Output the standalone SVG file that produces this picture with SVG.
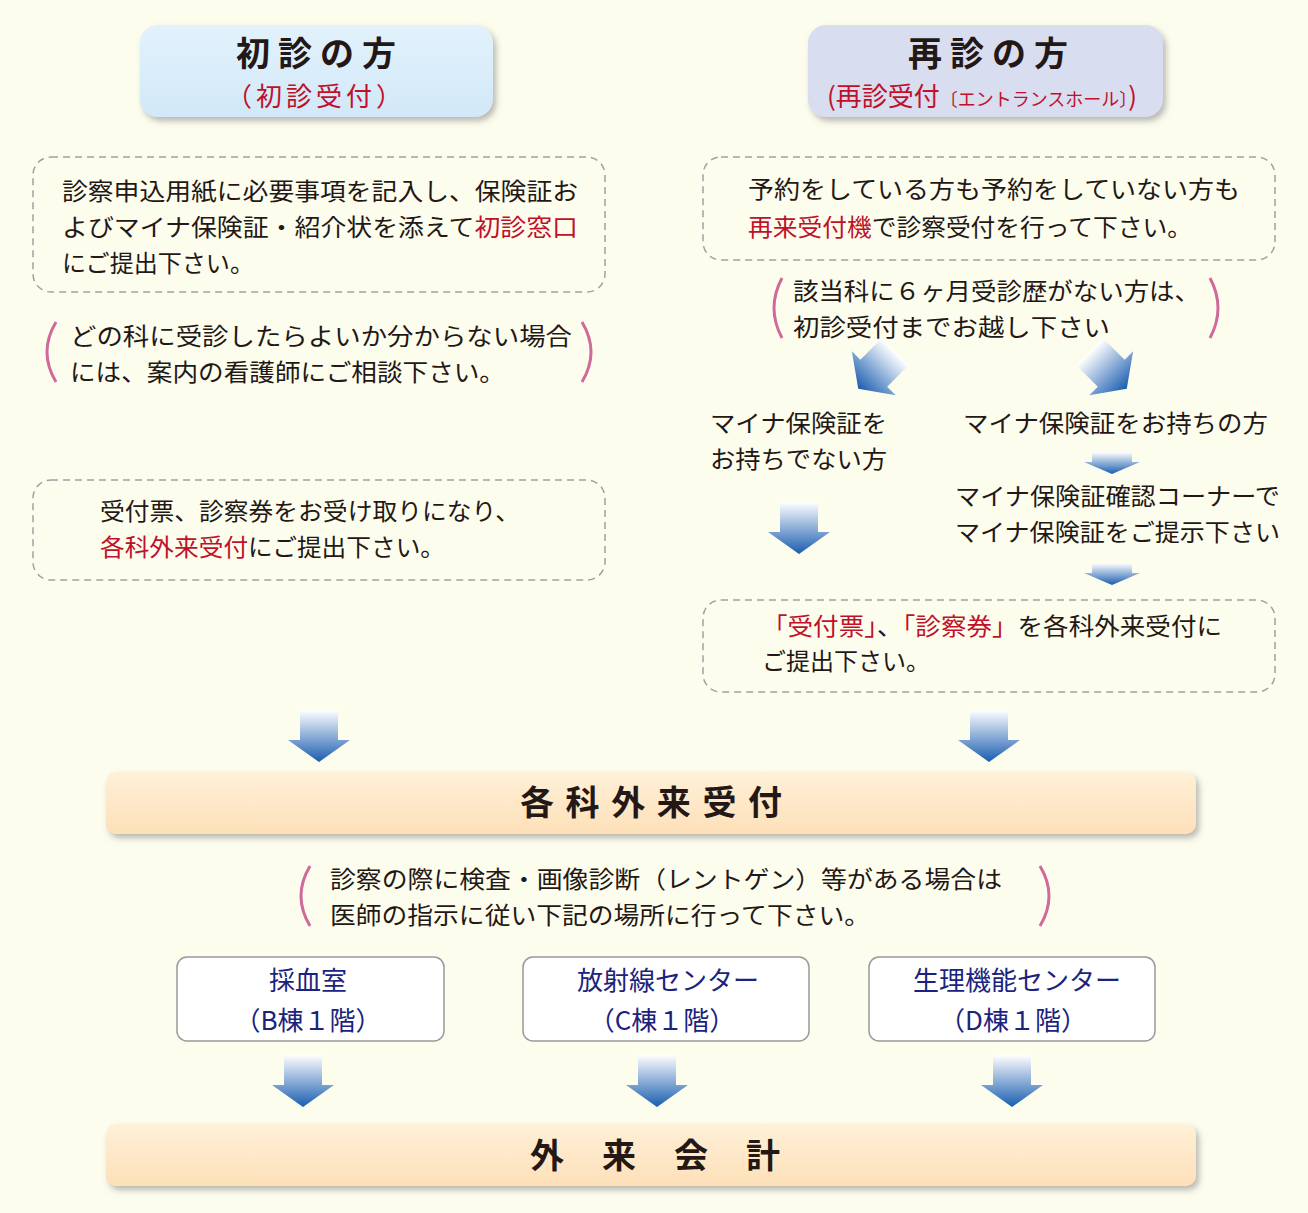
<svg xmlns="http://www.w3.org/2000/svg" width="1308" height="1213" viewBox="0 0 1308 1213">
<defs>
<linearGradient id="ag" x1="0" y1="0" x2="0" y2="1"><stop offset="0" stop-color="#ffffff"/><stop offset="1" stop-color="#1a5db0"/></linearGradient>
<linearGradient id="hb1" x1="0" y1="0" x2="0" y2="1"><stop offset="0" stop-color="#e2f2fc"/><stop offset="1" stop-color="#d2e8f8"/></linearGradient>
<linearGradient id="band" x1="0" y1="0" x2="0" y2="1"><stop offset="0" stop-color="#fff0d8"/><stop offset="1" stop-color="#fde0b8"/></linearGradient>
<filter id="sh" x="-10%" y="-20%" width="120%" height="150%"><feDropShadow dx="3" dy="4" stdDeviation="3" flood-color="#888" flood-opacity="0.6"/></filter>
<path id="arr" d="M-19 0 H19 V30 H31 L0 52 L-31 30 H-19 Z" fill="url(#ag)"/>
<path id="sarr" d="M-20 0 H20 V10 H28 L0 22 L-28 10 H-20 Z" fill="url(#ag)"/>
</defs>
<style>
text{font-family:"Noto Sans CJK JP","Noto Sans",sans-serif;fill:#231815}
.t{font-size:24px}
.r{fill:#c0102a}
.h{font-size:34px;font-weight:bold;text-anchor:middle;letter-spacing:8px}
.hs{font-size:26px;text-anchor:middle;fill:#c0102a}
.d{fill:none;stroke:#a0a0a0;stroke-width:1.5;stroke-dasharray:7 5}
.p{fill:none;stroke:#d06a9a;stroke-width:3}
.b{font-size:34px;font-weight:bold}
.nb{fill:#fff;stroke:#999;stroke-width:1.5}
.n{font-size:26px;fill:#1a237e;text-anchor:middle}
</style>
<rect width="1308" height="1213" fill="#fdfdee"/>
<g id="h1"><rect x="140" y="25" width="353" height="92" rx="18" fill="url(#hb1)" filter="url(#sh)"/><text class="h" x="320" y="66">初診の方</text><text class="hs" x="316" y="106" letter-spacing="4">（初診受付）</text></g>
<g id="h2"><rect x="808" y="25" width="355" height="92" rx="18" fill="#d8ddf0" filter="url(#sh)"/><text class="h" x="992" y="66">再診の方</text><text class="hs" x="982" y="106">(再診受付<tspan font-size="18">〔エントランスホール〕</tspan>)</text></g>
<g id="b1"><rect class="d" x="33" y="157" width="572" height="135" rx="18"/><text class="t" x="62" y="200" textLength="516" lengthAdjust="spacingAndGlyphs">診察申込用紙に必要事項を記入し、保険証お</text><text class="t" x="62" y="236" textLength="516" lengthAdjust="spacingAndGlyphs">よびマイナ保険証・紹介状を添えて<tspan class="r">初診窓口</tspan></text><text class="t" x="62" y="272" textLength="192" lengthAdjust="spacingAndGlyphs">にご提出下さい。</text></g>
<g id="n1"><path class="p" d="M56 322 Q38 352 56 382"/><path class="p" d="M582 322 Q600 352 582 382"/><text class="t" x="70" y="345" textLength="502" lengthAdjust="spacingAndGlyphs">どの科に受診したらよいか分からない場合</text><text class="t" x="70" y="381" textLength="435" lengthAdjust="spacingAndGlyphs">には、案内の看護師にご相談下さい。</text></g>
<g id="b2"><rect class="d" x="33" y="480" width="572" height="100" rx="18"/><text class="t" x="100" y="520" textLength="420" lengthAdjust="spacingAndGlyphs">受付票、診察券をお受け取りになり、</text><text class="t" x="100" y="556" textLength="345" lengthAdjust="spacingAndGlyphs"><tspan class="r">各科外来受付</tspan>にご提出下さい。</text></g>
<g id="b3"><rect class="d" x="703" y="157" width="572" height="103" rx="18"/><text class="t" x="748" y="198" textLength="492" lengthAdjust="spacingAndGlyphs">予約をしている方も予約をしていない方も</text><text class="t" x="748" y="236" textLength="444" lengthAdjust="spacingAndGlyphs"><tspan class="r">再来受付機</tspan>で診察受付を行って下さい。</text></g>
<g id="n2"><path class="p" d="M782 278 Q766 308 782 338"/><path class="p" d="M1210 278 Q1226 308 1210 338"/><text class="t" x="793" y="300" textLength="407" lengthAdjust="spacingAndGlyphs">該当科に６ヶ月受診歴がない方は、</text><text class="t" x="793" y="336" textLength="317" lengthAdjust="spacingAndGlyphs">初診受付までお越し下さい</text></g>
<g id="l1"><text class="t" x="710" y="432" textLength="177" lengthAdjust="spacingAndGlyphs">マイナ保険証を</text><text class="t" x="710" y="468" textLength="177" lengthAdjust="spacingAndGlyphs">お持ちでない方</text></g>
<g id="l2"><text class="t" x="963" y="432" textLength="305" lengthAdjust="spacingAndGlyphs">マイナ保険証をお持ちの方</text></g>
<g id="l3"><text class="t" x="955" y="505" textLength="325" lengthAdjust="spacingAndGlyphs">マイナ保険証確認コーナーで</text><text class="t" x="955" y="541" textLength="325" lengthAdjust="spacingAndGlyphs">マイナ保険証をご提示下さい</text></g>
<g id="b4"><rect class="d" x="703" y="600" width="572" height="92" rx="18"/><text class="t" x="762" y="635" textLength="460" lengthAdjust="spacingAndGlyphs"><tspan class="r">「受付票」</tspan>、<tspan class="r">「診察券」</tspan>を各科外来受付に</text><text class="t" x="762" y="670" textLength="168" lengthAdjust="spacingAndGlyphs">ご提出下さい。</text></g>
<g id="band1"><rect x="106" y="772" width="1090" height="62" rx="10" fill="url(#band)" filter="url(#sh)"/><text class="b" x="520" y="815" textLength="262" lengthAdjust="spacing">各科外来受付</text></g>
<g id="n3"><path class="p" d="M310 866 Q292 896 310 926"/><path class="p" d="M1040 866 Q1058 896 1040 926"/><text class="t" x="330" y="888" textLength="672" lengthAdjust="spacingAndGlyphs">診察の際に検査・画像診断（レントゲン）等がある場合は</text><text class="t" x="330" y="924" textLength="540" lengthAdjust="spacingAndGlyphs">医師の指示に従い下記の場所に行って下さい。</text></g>
<g id="s1"><rect class="nb" x="177" y="957" width="267" height="84" rx="10"/><text class="n" x="308" y="990">採血室</text><text class="n" x="308" y="1030">（B棟１階）</text></g>
<g id="s2"><rect class="nb" x="523" y="957" width="286" height="84" rx="10"/><text class="n" x="668" y="990">放射線センター</text><text class="n" x="662" y="1030">（C棟１階）</text></g>
<g id="s3"><rect class="nb" x="869" y="957" width="286" height="84" rx="10"/><text class="n" x="1017" y="990">生理機能センター</text><text class="n" x="1013" y="1030">（D棟１階）</text></g>
<g id="band2"><rect x="106" y="1124" width="1090" height="62" rx="10" fill="url(#band)" filter="url(#sh)"/><text class="b" x="530" y="1168" textLength="250" lengthAdjust="spacing">外来会計</text></g>
<g id="connectors">
<use href="#arr" transform="translate(895,352) rotate(45)"/>
<use href="#arr" transform="translate(1090,352) rotate(-45)"/>
<use href="#sarr" x="1112" y="452"/>
<use href="#sarr" x="1112" y="563"/>
<use href="#arr" x="799" y="502"/>
<use href="#arr" x="319" y="710"/>
<use href="#arr" x="989" y="710"/>
<use href="#arr" x="303" y="1055"/>
<use href="#arr" x="657" y="1055"/>
<use href="#arr" x="1012" y="1055"/>
</g>
</svg>
